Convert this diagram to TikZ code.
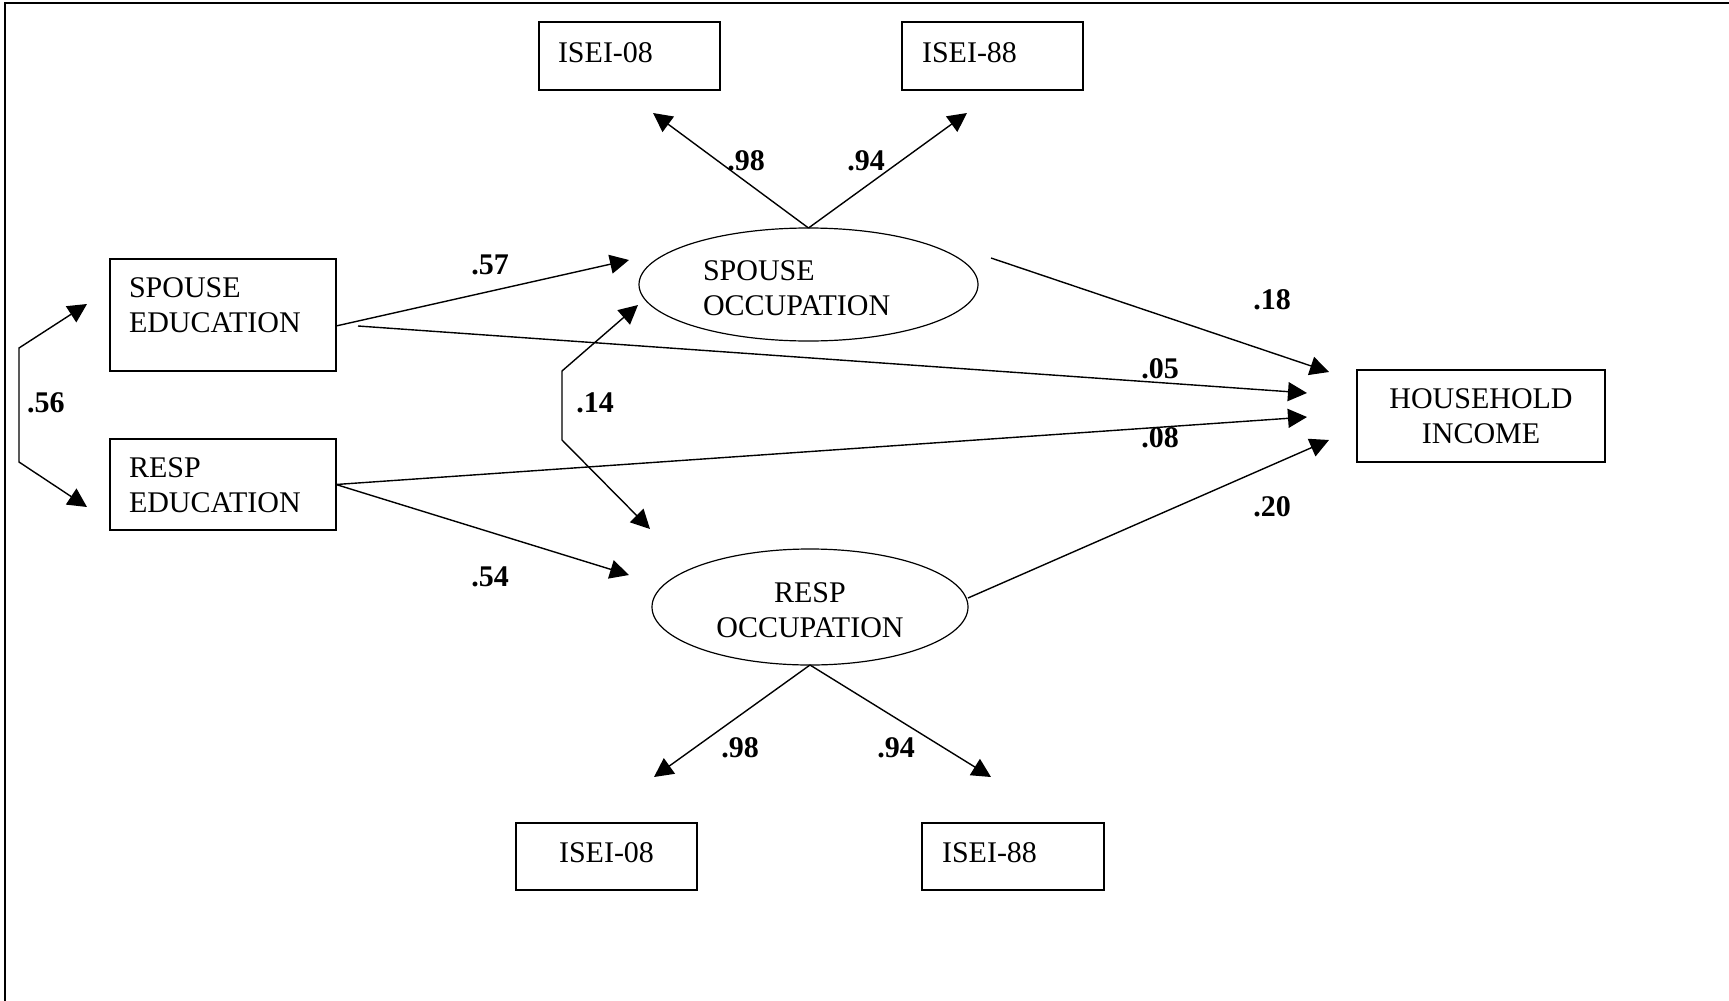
\documentclass[tikz,border=0pt]{standalone}
\usepackage{fontspec}
\setmainfont{Liberation Serif}
\usetikzlibrary{arrows.meta}
\usetikzlibrary{shapes.geometric}
\newcommand{\semfont}{\fontsize{15pt}{17.5pt}\selectfont}
\tikzset{
indicator/.style = { rectangle, draw = black, line width = 0.85pt, inner ysep = 0pt, outer sep = 0pt, font = \semfont },
latent/.style = { ellipse, draw = black, line width = 0.6pt, inner sep = 0pt, outer sep = 0pt, font = \semfont },
coef/.style = { inner sep = 0pt, font = \semfont\bfseries },
effect/.style = { -{Triangle[length = 9.5pt, width = 9.5pt]}, line width = 0.7pt },
corr/.style = { {Triangle[length = 9.5pt, width = 9.5pt]}-{Triangle[length = 9.5pt, width = 9.5pt]}, line width = 0.7pt },
}

\begin{document}
\begin{tikzpicture}[x = 0.5pt, y = -0.5pt]
    \useasboundingbox (0, 0) rectangle (1729, 1001);
    \draw[line width = 1.4pt] (5, 1001) -- (5, 3) -- (1729, 3);
    % observed variables
    \node[indicator, align = left, text width = 71.5pt, inner xsep = 9.5pt, text height = 20pt, text depth = 14pt] (spisei08) at (629.5, 56) {ISEI-08};
    \node[indicator, align = left, text width = 70.5pt, inner xsep = 10pt, text height = 20pt, text depth = 14pt] (spisei88) at (992.5, 56) {ISEI-88};
    \node[indicator, align = left, text width = 94pt, inner xsep = 9.5pt, text height = 19pt, text depth = 37pt] (spedu) at (223, 315) {SPOUSE\\EDUCATION};
    \node[indicator, align = left, text width = 94pt, inner xsep = 9.5pt, text height = 19pt, text depth = 26.5pt] (resedu) at (223, 484.5) {RESP\\EDUCATION};
    \node[indicator, align = center, text width = 114pt, inner xsep = 5pt, text height = 19pt, text depth = 27pt] (income) at (1481, 416) {HOUSEHOLD\\INCOME};
    \node[indicator, align = center, text width = 80.5pt, inner xsep = 5pt, text height = 19.5pt, text depth = 14pt] (resisei08) at (606.5, 856.5) {ISEI-08};
    \node[indicator, align = left, text width = 71pt, inner xsep = 10pt, text height = 19.5pt, text depth = 14pt] (resisei88) at (1013, 856.5) {ISEI-88};
    % latent variables
    \node[latent, align = left, text width = 105.5pt, text height = 13pt, text depth = 17.5pt, minimum width = 169.5pt, minimum height = 56.5pt] (spocc) at (808.5, 284.5) {SPOUSE\\OCCUPATION};
    \node[latent, align = center, text width = 100pt, text height = 12.5pt, text depth = 17.5pt, minimum width = 158pt, minimum height = 58pt] (resocc) at (810, 607) {RESP\\OCCUPATION};
    % correlations
    \draw[corr] ([shift = {(-11.5pt, 5.5pt)}]spedu.west) -- ++(-34pt, -22pt) -- ++(0pt, -57pt) -- ([shift = {(-11.5pt, -11.25pt)}]resedu.west);
    \draw[corr] ([shift = {(-0.5pt, -10.25pt)}]spocc.west) -- ++(-38pt, -33pt) -- ++(0pt, -34.5pt) -- ([shift = {(-1pt, 39pt)}]resocc.west);
    % paths
    \draw[effect] ([yshift = -5.5pt]spedu.east) -- ([shift = {(-5pt, 12.25pt)}]spocc.west);
    \draw[effect] ([shift = {(11pt, -5.5pt)}]spedu.east) -- ([shift = {(-25pt, 11.5pt)}]income.west);
    \draw[effect] (resedu.east) -- ([shift = {(-25pt, -0.5pt)}]income.west);
    \draw[effect] (resedu.east) -- ([shift = {(-11.5pt, 16pt)}]resocc.west);
    \draw[effect] (spocc.north) -- ([shift = {(11.75pt, -11.5pt)}]spisei08.south);
    \draw[effect] (spocc.north) -- ([shift = {(-12.75pt, -11.5pt)}]spisei88.south);
    \draw[effect] ([shift = {(6.5pt, 13.25pt)}]spocc.east) -- ([shift = {(-14pt, 22pt)}]income.west);
    \draw[effect] ([yshift = 4.5pt]resocc.east) -- ([shift = {(-14pt, -12pt)}]income.west);
    \draw[effect] (resocc.south) -- ([shift = {(23.75pt, 23pt)}]resisei08.north);
    \draw[effect] (resocc.south) -- ([shift = {(-11pt, 23pt)}]resisei88.north);
    % coefficients
    \node[coef] (c56) at (46, 403) {.56};
    \node[coef] (c14) at (595, 403) {.14};
    \node[coef] (c57) at (490, 265) {.57};
    \node[coef] (c54) at (490, 577) {.54};
    \node[coef] (c05) at (1160, 369) {.05};
    \node[coef] (c08) at (1160, 438) {.08};
    \node[coef] (c18) at (1272, 300) {.18};
    \node[coef] (c20) at (1272, 507) {.20};
    \node[coef] (c98top) at (746, 161) {.98};
    \node[coef] (c94top) at (866, 161) {.94};
    \node[coef] (c98bot) at (740, 748) {.98};
    \node[coef] (c94bot) at (896, 748) {.94};
\end{tikzpicture}
\end{document}
